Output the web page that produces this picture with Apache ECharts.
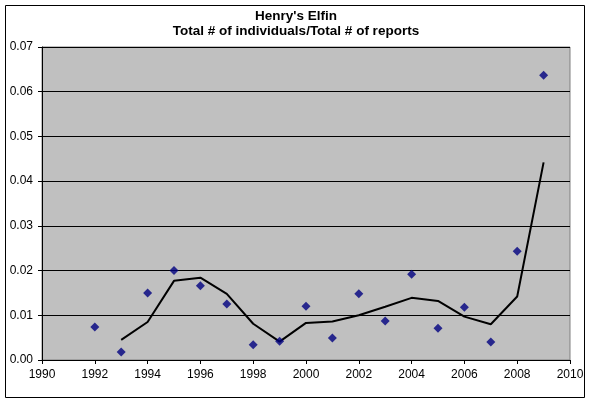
<!DOCTYPE html>
<html>
<head>
<meta charset="utf-8">
<script src="https://cdn.jsdelivr.net/npm/echarts@6/dist/echarts.min.js"></script>
<style>
  html, body { margin: 0; padding: 0; background: #fff; }
  #chart { width: 592px; height: 404px; }
</style>
</head>
<body>
<div id="chart"></div>
<script>
// data
var years = [1992, 1993, 1994, 1995, 1996, 1997, 1998, 1999, 2000, 2001, 2002, 2003, 2004, 2005, 2006, 2007, 2008, 2009];
var ratio = [0.0074, 0.0018, 0.0150, 0.0200, 0.0166, 0.0125, 0.0034, 0.0042, 0.0120, 0.0049, 0.0148, 0.0087, 0.0192, 0.0071, 0.0118, 0.0040, 0.0243, 0.0637];
// trend line (2 per. moving average as drawn)
var trendYears = [1993, 1994, 1995, 1996, 1997, 1998, 1999, 2000, 2001, 2002, 2003, 2004, 2005, 2006, 2007, 2008, 2009];
var trend = [0.0045, 0.0085, 0.0177, 0.0184, 0.0148, 0.0081, 0.0041, 0.0083, 0.0086, 0.0100, 0.0119, 0.0139, 0.0132, 0.0097, 0.0080, 0.0142, 0.0442];

var titleLines = ["Henry's Elfin", "Total # of individuals/Total # of reports"];

function pairs(xs, ys) {
    var out = [];
    for (var i = 0; i < xs.length; i++) {
        out.push([xs[i], ys[i]]);
    }
    return out;
}

var chart = echarts.init(document.getElementById('chart'));

var option = {
    animation: false,
    textStyle: { fontFamily: 'Liberation Sans, Arial, sans-serif' },
    title: {
        text: titleLines.join('\n'),
        left: 'center',
        top: 9,
        padding: 0,
        textStyle: {
            fontSize: 13.5,
            fontWeight: 'bold',
            color: '#000',
            lineHeight: 15
        }
    },
    graphic: [{
        type: 'rect',
        shape: { x: 5.5, y: 5.5, width: 579, height: 392 },
        style: { fill: 'none', stroke: '#000', lineWidth: 1 },
        silent: true,
        z: -1
    }],
    grid: {
        left: 42,
        right: 22,
        top: 47,
        bottom: 44,
        show: true,
        backgroundColor: '#c0c0c0',
        borderColor: '#808080',
        borderWidth: 1
    },
    xAxis: {
        type: 'value',
        min: 1990,
        max: 2010,
        interval: 2,
        axisLine: { show: true, onZero: false, lineStyle: { color: '#000', width: 1 } },
        axisTick: { show: true, length: 4, lineStyle: { color: '#000' } },
        axisLabel: {
            color: '#000',
            fontSize: 12,
            margin: 9,
            formatter: function (v) { return String(v); }
        },
        splitLine: { show: false }
    },
    yAxis: {
        type: 'value',
        min: 0,
        max: 0.07,
        interval: 0.01,
        axisLine: { show: true, lineStyle: { color: '#000', width: 1 } },
        axisTick: { show: true, length: 4, lineStyle: { color: '#000' } },
        axisLabel: {
            color: '#000',
            fontSize: 12,
            margin: 9,
            formatter: function (v) { return v.toFixed(2); }
        },
        splitLine: { show: true, lineStyle: { color: '#000', width: 1 } }
    },
    series: [
        {
            type: 'line',
            data: pairs(trendYears, trend),
            showSymbol: false,
            symbol: 'none',
            lineStyle: { color: '#000', width: 2 },
            z: 2
        },
        {
            type: 'scatter',
            data: pairs(years, ratio),
            symbol: 'diamond',
            symbolSize: 9,
            itemStyle: { color: '#000080' },
            z: 3
        }
    ]
};

chart.setOption(option);
</script>
</body>
</html>
